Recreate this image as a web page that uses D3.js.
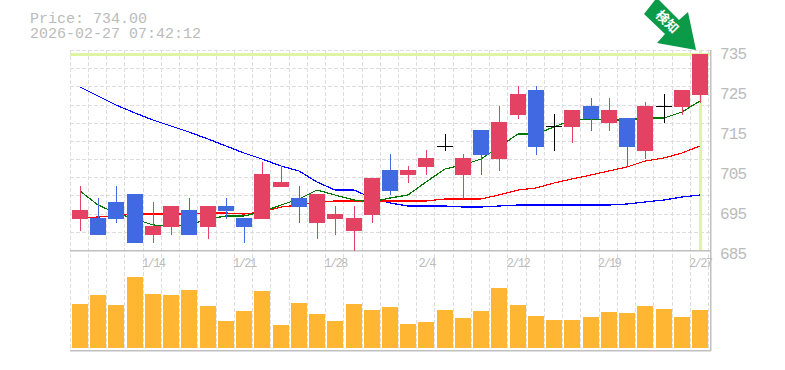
<!DOCTYPE html>
<html>
<head>
<meta charset="utf-8">
<script src="https://cdnjs.cloudflare.com/ajax/libs/d3/7.8.5/d3.min.js"></script>
<style>
  html, body { margin: 0; padding: 0; background: #fff; }
  svg { display: block; }
  text { font-family: "Liberation Mono", monospace; fill: #bbbbbb; }
  .grid line { stroke: #dddddd; stroke-width: 1; stroke-dasharray: 4,2; shape-rendering: crispEdges; }
  .ma { fill: none; stroke-width: 1.2; shape-rendering: crispEdges; }
</style>
</head>
<body>
<svg width="785" height="370"></svg>
<script>
const dates = ['1/7','1/8','1/9','1/13','1/14','1/15','1/16','1/19','1/20','1/21','1/22','1/23','1/26','1/27','1/28',
  '1/29','1/30','2/2','2/3','2/4','2/5','2/6','2/9','2/10','2/12','2/13','2/16','2/17','2/18','2/19','2/20','2/24','2/25','2/26','2/27'];
const open =  [693,693,697,699,689,691,695,691,696,693,693,701,698,692,693,690,694,705,704,706,711,704,715,708,719,725,716,716,721,717,718,710,721,721,724];
const close = [695,689,693,687,691,696,689,696,695,691,704,702,696,699,694,693,703,700,705,708,711,708,709,717,724,711,716,720,718,720,711,721,721,725,734];
const high =  [701,698,701,699,697,696,698,696,698,693,707,706,701,699,696,696,703,709,706,710,714,709,715,721,726,726,719,720,723,723,718,722,724,725,734];
const low =   [690,689,692,687,687,689,689,688,693,687,693,701,692,688,689,685,692,699,702,704,710,698,704,705,718,709,710,712,715,715,706,708,717,719,722];
const volume = [44,53,43,71,54,53,58,42,27,37,57,23,45,34,27,44,38,41,24,26,38,30,37,60,43,32,28,28,31,36,35,42,39,31,38];

const maShort = [699.75,696.25,694.25,692.75,691.25,691,691.25,692.75,693.5,693.5,694.5,696.25,697.75,700,698.75,697.5,697,698,698.75,
  702,705.25,706.25,707.75,710.75,714,714,715.75,717.5,717.75,717.5,717.5,718,718,719.5,722.25];
const maMid = [693,693.25,693.5,694,694,694,694,694.25,694.25,694,694.5,695.75,696.25,697,697.25,697.25,697.25,697.25,697.25,697.25,
  697.75,697.75,697.75,698.75,700,700.5,701.75,702.75,703.75,704.75,705.75,707.25,708,709.25,711];
const maLong = [725.75,723.5,721.25,719.25,717.5,716,714.5,712.75,711,709.25,707.75,706,704.75,702,700,700,698,696.75,696,696,696,
  695.75,695.75,696,696.25,696.25,696.25,696.25,696.25,696.25,696.5,697,697.5,698.25,698.75];

const priceTicks = [735,725,715,705,695,685];
const dateTicks = ['1/14','1/21','1/28','2/4','2/12','2/19','2/27'];
const lastPrice = 734;

const colors = { up: '#e34262', down: '#4169e1', doji: '#000000', vol: '#ffb733', mark: '#dff5a3', axis: '#c0c0c0' };

const svg = d3.select('svg');

const x = d3.scaleBand().domain(d3.range(dates.length)).range([70.88, 709.1]);
const y = d3.scaleLinear().domain([685, 735]).range([250, 50]);
const yVol = d3.scaleLinear().domain([0, 98]).range([348, 250]);
const cx = i => Math.round(x(i) + x.bandwidth() / 2);

// title
svg.append('text').attr('x', 30).attr('y', 23).attr('font-size', 15).text(`Price: ${lastPrice.toFixed(2)}`);
svg.append('text').attr('x', 30).attr('y', 38).attr('font-size', 15).text('2026-02-27 07:42:12');

// grid
const grid = svg.append('g').attr('class', 'grid');
grid.selectAll('.h').data(d3.range(0, 12)).enter().append('line')
  .attr('x1', 70).attr('x2', 710)
  .attr('y1', d => Math.round(y(735 - d * 50 / 11)))
  .attr('y2', d => Math.round(y(735 - d * 50 / 11)));
grid.selectAll('.v').data(d3.range(-1, dates.length)).enter().append('line')
  .attr('x1', d => d < 0 ? 70 : cx(d) + 8)
  .attr('x2', d => d < 0 ? 70 : cx(d) + 8)
  .attr('y1', 50).attr('y2', 350);

// frame lines
[250, 350].forEach(v => {
  svg.append('rect').attr('x', 70).attr('y', v).attr('width', 641).attr('height', 1.5).attr('fill', colors.axis);
});
svg.append('rect').attr('x', 710).attr('y', 50).attr('width', 1.5).attr('height', 301).attr('fill', colors.axis);

// last price marker
svg.append('rect').attr('x', 70).attr('y', y(lastPrice) - 1).attr('width', 640).attr('height', 3).attr('fill', colors.mark);
svg.append('rect').attr('x', cx(dates.length - 1) - 1).attr('y', 50).attr('width', 3).attr('height', 200).attr('fill', colors.mark);

// moving averages
const line = d3.line().x((d, i) => cx(i)).y(d => y(d));
[[maLong, '#0000ff'], [maMid, '#ff0000'], [maShort, '#007700']].forEach(([values, color]) => {
  svg.append('path').attr('class', 'ma').attr('d', line(values)).attr('stroke', color);
});

// candles
const idx = d3.range(dates.length);
const tone = i => close[i] > open[i] ? colors.up : close[i] < open[i] ? colors.down : colors.doji;
const candles = svg.append('g');
candles.selectAll('.wick').data(idx).enter().append('rect')
  .attr('x', i => cx(i))
  .attr('width', 1)
  .attr('y', i => y(high[i]))
  .attr('height', i => y(low[i]) - y(high[i]) + 1)
  .attr('fill', tone);
candles.selectAll('.body').data(idx).enter().append('rect')
  .attr('x', i => cx(i) - 8)
  .attr('width', 16)
  .attr('y', i => y(Math.max(open[i], close[i])))
  .attr('height', i => Math.abs(y(open[i]) - y(close[i])) + 1)
  .attr('fill', tone);

// volume
svg.append('g').selectAll('rect').data(idx).enter().append('rect')
  .attr('x', i => cx(i) - 8)
  .attr('width', 16)
  .attr('y', i => yVol(volume[i]))
  .attr('height', i => yVol(0) - yVol(volume[i]))
  .attr('fill', colors.vol);

// axes
const yAxis = d3.axisRight(y).tickValues(priceTicks).tickSize(0).tickPadding(0);
const yAxisG = svg.append('g').attr('transform', 'translate(720,0)').call(yAxis);
yAxisG.select('.domain').remove();
yAxisG.selectAll('text').attr('dy', 8).attr('x', 0)
  .attr('font-size', 16).attr('font-family', 'Liberation Mono').attr('textLength', 27);

const xAxis = d3.axisBottom(d3.scalePoint().domain(dates).range([cx(0), cx(dates.length - 1)]))
  .tickValues(dateTicks).tickSize(0).tickPadding(0);
const xAxisG = svg.append('g').attr('transform', 'translate(0.5,267)').call(xAxis);
xAxisG.select('.domain').remove();
xAxisG.selectAll('text').attr('y', 0).attr('dy', 0)
  .attr('font-size', 12).attr('font-family', 'Liberation Mono')
  .attr('textLength', function () { return this.textContent.length * 6; });

// arrow badge
svg.append('polygon')
  .attr('points', '655,0 644,14 665,34 657,43 696,50 688,12 679,20 659,0')
  .attr('fill', '#0a9a48');
svg.append('text')
  .attr('transform', 'translate(667.5,21.5) rotate(45)')
  .attr('text-anchor', 'middle').attr('dy', 5)
  .attr('font-size', 13).attr('font-weight', 'bold')
  .style('font-family', '"Noto Sans CJK JP"').style('fill', '#fff')
  .text('検知');
</script>
</body>
</html>
